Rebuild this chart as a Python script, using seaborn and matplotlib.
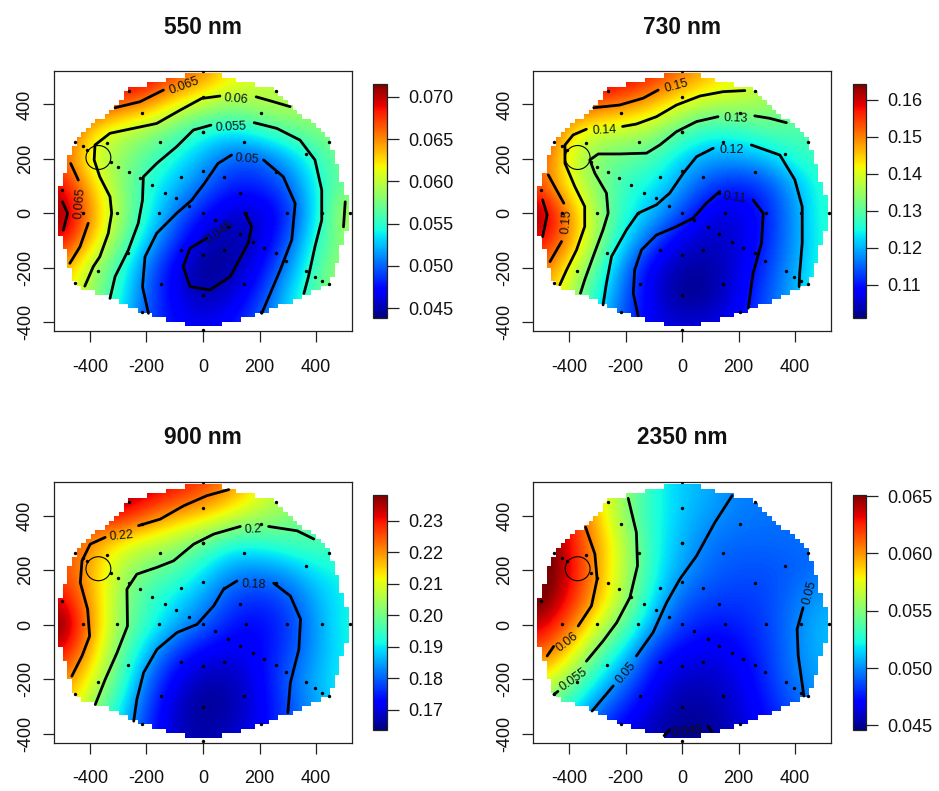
import numpy as np
import matplotlib
matplotlib.use("Agg")
import matplotlib.pyplot as plt
from matplotlib.path import Path
from matplotlib.patches import Circle
import seaborn as sns

sns.set_style("ticks")
plt.rcParams['font.family'] = ['Liberation Sans', 'DejaVu Sans']
plt.rcParams['axes.unicode_minus'] = False
plt.rcParams['text.color'] = 'black'
plt.rcParams['xtick.labelcolor'] = '#111111'
plt.rcParams['ytick.labelcolor'] = '#111111'

W, H = 939, 791

X_GRID = [-500, -400, -300, -200, -100, 0, 100, 200, 300, 400, 500]
Y_GRID = [500, 400, 300, 200, 100, 0, -100, -200, -300, -400]

VALUES_550 = [
    [.0700, .0700, .0700, .0700, .0670, .0650, .0620, .0605, .0590, .0580, .0580],
    [.0680, .0680, .0665, .0648, .0615, .0597, .0585, .0595, .0598, .0590, .0590],
    [.0690, .0625, .0598, .0585, .0565, .0545, .0535, .0548, .0565, .0575, .0585],
    [.0665, .0605, .0585, .0562, .0542, .0520, .0497, .0497, .0520, .0550, .0575],
    [.0695, .0635, .0585, .0548, .0525, .0502, .0480, .0482, .0497, .0542, .0572],
    [.0720, .0650, .0592, .0547, .0505, .0477, .0457, .0458, .0480, .0538, .0597],
    [.0695, .0635, .0580, .0528, .0488, .0455, .0445, .0458, .0495, .0548, .0585],
    [.0645, .0595, .0555, .0505, .0468, .0440, .0448, .0470, .0510, .0560, .0590],
    [.0630, .0590, .0548, .0498, .0467, .0448, .0458, .0485, .0530, .0565, .0590],
    [.0620, .0575, .0535, .0495, .0473, .0465, .0475, .0498, .0530, .0560, .0580],
]
VALUES_730 = [
    [.160, .160, .162, .160, .156, .151, .146, .142, .138, .135, .133],
    [.160, .155, .1525, .1497, .1455, .1395, .1365, .1365, .1355, .132, .130],
    [.158, .1435, .138, .1375, .135, .1297, .1255, .1265, .1293, .1295, .128],
    [.155, .1395, .1325, .1305, .1285, .1215, .1188, .1185, .1205, .126, .128],
    [.153, .1415, .1335, .1265, .1235, .1187, .1125, .1105, .1128, .1197, .1265],
    [.1650, .149, .1355, .1255, .1205, .1135, .1065, .106, .1105, .1185, .1265],
    [.1585, .1495, .1345, .1225, .1135, .1065, .1045, .106, .111, .1185, .126],
    [.153, .1415, .129, .1165, .107, .103, .103, .1065, .1125, .1195, .126],
    [.148, .1375, .1255, .1145, .1065, .1015, .1025, .1075, .114, .1205, .127],
    [.145, .135, .122, .113, .107, .106, .106, .109, .114, .120, .126],
]
VALUES_900 = [
    [.235, .235, .238, .235, .231, .227, .2205, .212, .205, .200, .198],
    [.230, .230, .232, .224, .218, .2145, .2095, .205, .2025, .1985, .196],
    [.228, .2200, .2115, .208, .2045, .199, .1925, .193, .1955, .197, .195],
    [.226, .2175, .206, .1995, .197, .190, .1835, .1825, .185, .190, .192],
    [.232, .2185, .204, .195, .190, .185, .178, .176, .1785, .186, .191],
    [.241, .2205, .2035, .194, .186, .180, .174, .1725, .1765, .184, .192],
    [.232, .2175, .200, .187, .177, .172, .1705, .1725, .1775, .1845, .191],
    [.222, .2115, .197, .1815, .1715, .1665, .167, .1715, .180, .186, .192],
    [.218, .2045, .192, .178, .1685, .1645, .166, .171, .178, .185, .190],
    [.215, .200, .188, .176, .168, .166, .168, .172, .178, .184, .190],
]
VALUES_2350 = [
    [.0600, .0600, .0580, .0555, .0525, .0512, .0507, .0497, .0497, .0497, .0497],
    [.0660, .0630, .0590, .0550, .0525, .0512, .0502, .0497, .0495, .0495, .0497],
    [.0665, .0632, .0597, .0562, .0525, .0508, .0495, .0492, .0492, .0493, .0495],
    [.0665, .0635, .0598, .0560, .0525, .0503, .0492, .0488, .0488, .0490, .0495],
    [.0660, .0630, .0595, .0557, .0517, .0492, .0485, .0483, .0485, .0495, .0505],
    [.0640, .0612, .0572, .0540, .0503, .0482, .0475, .0477, .0484, .0498, .0510],
    [.0615, .0585, .0545, .0515, .0480, .0470, .0465, .0470, .0482, .0498, .0510],
    [.0580, .0555, .0520, .0495, .0470, .0458, .0458, .0465, .0480, .0497, .0505],
    [.0550, .0525, .0498, .0478, .0462, .0452, .0453, .0462, .0475, .0490, .0500],
    [.0530, .0505, .0480, .0465, .0455, .0448, .0450, .0460, .0470, .0485, .0495],
]

OUTLINE = [
    (-518, 48), (-504, 98), (-483, 177), (-450, 269), (-409, 312), (-317, 386), (-264, 455),
    (-129, 490), (-55, 510), (50, 510), (107, 490), (261, 455), (308, 392), (414, 312),
    (450, 269), (473, 183), (497, 98), (514, 48), (514, -50), (497, -98), (473, -184),
    (450, -258), (367, -295), (296, -331), (202, -368), (107, -399), (50, -410), (-55, -410),
    (-129, -393), (-223, -362), (-306, -319), (-412, -282), (-453, -258), (-477, -184),
    (-500, -98), (-518, -50),
]

POINTS_X = [0, 519, 0, -262, 257, 0, -217, 206, 0, -453, -152, 145, 446, -425, -341, 363,
            -324, -409, -300, -262, -223, -182, -136, -94, -48, 0, -79, 74, 257, 130, -498,
            -425, -303, -156, 0, 151, 298, 420, 42, 90, 130, 176, 217, 258, 293, 74, -79, 0,
            -265, -372, 366, 396, 420, 446, -453, -150, 145, 0, -217, 206, 0]
POINTS_Y = [524, 2, 428, 448, 448, 299, 369, 369, 299, 262, 262, 262, 262, 246, 257, 216,
            189, 234, 170, 151, 130, 103, 76, 55, 28, 157, 135, 135, 151, 76, 87,
            2, 2, 2, 2, 2, 2, 2, -25, -51, -78, -105, -126, -148, -174, -137, -137, -153,
            -148, -211, -211, -233, -250, -260, -256, -260, -260, -301, -364, -364, -428]

CIRCLE_CENTER = (-370, 205)
CIRCLE_RADIUS = 44

LINES_550 = [
    [(-311, 388), (-223, 410), (-140, 453)],
    [(-468, 183), (-441, 122)],
    [(-406, -37), (-435, -123), (-471, -184)],
    [(-497, 42), (-479, 0), (-494, -62)],
    [(308, 392), (249, 410), (188, 428)],
    [(60, 431), (-5, 422), (-81, 379), (-164, 330), (-247, 312), (-329, 294), (-382, 251),
     (-385, 196), (-365, 134), (-329, 61), (-323, 0), (-335, -74), (-365, -160), (-388, -196), (-418, -268)],
    [(503, 42), (497, -50)],
    [(-329, -313), (-311, -233), (-264, -135), (-229, -37), (-214, 48), (-211, 134), (-164, 183),
     (-93, 245), (-34, 306), (28, 324)],
    [(181, 333), (261, 312), (343, 269), (396, 196), (420, 85), (420, -25), (396, -123), (373, -233), (357, -295)],
    [(-193, -368), (-214, -270), (-205, -160), (-164, -74), (-93, 0), (-40, 48), (5, 110), (53, 183), (101, 214)],
    [(214, 196), (284, 134), (326, 36), (314, -98), (273, -209), (208, -368)],
    [(149, 0), (172, -49), (160, -110), (96, -233), (25, -282), (-46, -270), (-70, -196), (-46, -129), (13, -92)],
]
LINES_730 = [
    [(-494, 49), (-478, -6), (-494, -86)],
    [(-313, 388), (-221, 398), (-138, 423), (-85, 453)],
    [(-474, 141), (-445, 86), (-419, 37)],
    [(-427, -104), (-468, -178)],
    [(222, 451), (145, 447), (63, 431), (-20, 398), (-91, 355), (-162, 328), (-211, 319)],
    [(-339, 309), (-386, 288), (-415, 251), (-415, 184), (-380, 98), (-345, 25), (-345, -49),
     (-374, -135), (-409, -208), (-433, -263)],
    [(369, 333), (310, 349), (257, 358)],
    [(127, 355), (51, 337), (-20, 300), (-79, 251), (-126, 221), (-221, 218), (-297, 218), (-327, 196),
     (-309, 147), (-268, 74), (-262, 0), (-280, -61), (-315, -159), (-345, -245), (-360, -294)],
    [(-280, -337), (-268, -257), (-250, -159), (-197, -61), (-156, 0), (-91, 31), (-44, 74), (4, 147),
     (51, 208), (110, 239)],
    [(245, 251), (346, 214), (399, 123), (425, 24), (425, -110), (416, -221), (414, -270)],
    [(-156, -377), (-173, -294), (-168, -208), (-144, -135), (-91, -80), (-20, -49), (39, -18), (86, 37), (133, 80)],
    [(251, 49), (287, 0), (281, -110), (251, -221), (234, -349)],
]
LINES_900 = [
    [(-228, 363), (-151, 387), (-68, 436), (14, 473), (91, 495)],
    [(-346, 320), (-399, 295), (-428, 234), (-434, 154), (-408, 56), (-401, -42), (-428, -115), (-464, -189)],
    [(392, 314), (333, 344), (232, 360)],
    [(132, 360), (38, 332), (-33, 295), (-104, 234), (-163, 210), (-234, 185), (-269, 130), (-267, -5),
     (-304, -103), (-346, -201), (-381, -293)],
    [(-245, -354), (-234, -275), (-210, -176), (-163, -91), (-92, -29), (-21, 1), (38, 69), (73, 130), (120, 160)],
    [(250, 152), (309, 105), (345, 20), (339, -91), (309, -213), (300, -323)],
]
LINES_2350 = [
    [(-342, 357), (-309, 259), (-301, 167), (-321, 69), (-368, -5)],
    [(-455, -80), (-478, -115)],
    [(-191, 463), (-162, 338), (-158, 216), (-185, 99), (-232, 7), (-280, -60), (-339, -134)],
    [(-454, -256), (-440, -245)],
    [(177, 473), (116, 375), (51, 252), (-8, 167), (-55, 81), (-103, -29), (-162, -115)],
    [(-244, -225), (-319, -317)],
    [(428, 62), (407, -17), (411, -115), (431, -262)],
    [(-64, -407), (-44, -385)],
    [(92, -373), (104, -391)],
]

LABELS_550 = [("0.065", -66, 469, 20), ("0.06", 116, 419, -5), ("0.055", 98, 318, 3),
              ("0.05", 155, 198, -5), ("0.045", 57, -70, 35), ("0.065", -435, 36, 85)]
LABELS_730 = [("0.15", -20, 468, 15), ("0.14", -276, 306, 3), ("0.13", 189, 347, -2),
              ("0.12", 177, 233, 0), ("0.11", 186, 59, -8), ("0.15", -409, -31, 85)]
LABELS_900 = [("0.22", -290, 326, 5), ("0.2", 177, 350, 3), ("0.18", 179, 148, -3)]
LABELS_2350 = [("0.06", -407, -66, 38), ("0.055", -386, -201, 35), ("0.05", -200, -176, 50),
               ("0.05", 452, 118, 75), ("0.045", 15, -391, 5)]

TITLES = ["550 nm", "730 nm", "900 nm", "2350 nm"]
RANGES = [(.04385, .0715), (.1011, .1642), (.1635, .2382), (.0446, .0651)]
CB_TICKS = [[.045, .05, .055, .06, .065, .07], [.11, .12, .13, .14, .15, .16],
            [.17, .18, .19, .20, .21, .22, .23], [.045, .05, .055, .06, .065]]
CB_FORMATS = ["%.3f", "%.2f", "%.2f", "%.3f"]
XTICKS = [-400, -200, 0, 200, 400]
YTICKS = [-400, -200, 0, 200, 400]

GRIDS = [VALUES_550, VALUES_730, VALUES_900, VALUES_2350]
LINES = [LINES_550, LINES_730, LINES_900, LINES_2350]
LABELS = [LABELS_550, LABELS_730, LABELS_900, LABELS_2350]

# pixel layout: (left, right, top, bottom)
AX_BOX = [(54, 352, 71, 331), (533.3, 831, 71, 331), (54, 352, 482, 742.7), (533.3, 831, 482, 742.7)]
CB_BOX = [(373, 387, 84, 318), (852.5, 866, 84, 318), (373, 387, 495, 730), (852.5, 866, 495, 730)]


def frac_rect(box):
    l, r, t, b = box
    return [l / W, 1 - b / H, (r - l) / W, (b - t) / H]


def stair_path(outline, step=16.6):
    poly = Path(np.array(outline + [outline[0]], dtype=float))
    rows = np.arange(-432, 530, step)
    cols = np.arange(-530, 530, step)
    left, right = [], []
    for y in rows:
        inside = poly.contains_points([(x + step / 2, y + step / 2) for x in cols])
        if inside.any():
            xs = cols[inside]
            left += [(xs.min(), y), (xs.min(), y + step)]
            right += [(xs.max() + step, y), (xs.max() + step, y + step)]
    verts = left + right[::-1] + [left[0]]
    return Path(np.array(verts))


clip = stair_path(OUTLINE)
fig = plt.figure(figsize=(W / 100, H / 100), dpi=100, facecolor="white")
FS = 13
for i in range(4):
    ax = fig.add_axes(frac_rect(AX_BOX[i]))
    vmin, vmax = RANGES[i]
    im = ax.imshow(np.array(GRIDS[i]), cmap="jet", vmin=vmin, vmax=vmax, aspect="auto",
                   extent=(-550, 550, -450, 550), origin="upper",
                   interpolation="bicubic", interpolation_stage="data", zorder=1)
    im.set_clip_path(clip, ax.transData)
    for seg in LINES[i]:
        xs, ys = zip(*seg)
        sns.lineplot(x=list(xs), y=list(ys), sort=False, estimator=None, color="black",
                     linewidth=2.0, ax=ax, zorder=3, legend=False)
    sns.scatterplot(x=POINTS_X, y=POINTS_Y, color="black", s=6, linewidth=0, ax=ax, zorder=4, legend=False)
    ax.add_patch(Circle(CIRCLE_CENTER, CIRCLE_RADIUS, fill=False, ec="black", lw=0.8, zorder=4))
    for txt, x, y, rot in LABELS[i]:
        ax.text(x, y, txt, rotation=rot, ha="center", va="center", fontsize=9,
                color="#111111", zorder=5, rotation_mode="anchor")
    ax.set_xlim(-527, 527)
    ax.set_ylim(-433, 523)
    ax.set_xticks(XTICKS)
    ax.set_yticks(YTICKS)
    ax.tick_params(axis="x", length=8, width=0.9, labelsize=FS, pad=12, color="#222222")
    ax.tick_params(axis="y", length=8, width=0.9, labelsize=FS, pad=6.5, color="#222222")
    for t in ax.get_yticklabels():
        t.set_rotation(90)
        t.set_va("center")
    for s in ax.spines.values():
        s.set_linewidth(0.9)
        s.set_color("#222222")
    ax.set_title(TITLES[i], fontsize=16.3, fontweight="bold", pad=27, color="#111111")

    cax = fig.add_axes(frac_rect(CB_BOX[i]))
    cb = fig.colorbar(im, cax=cax, ticks=CB_TICKS[i], format=CB_FORMATS[i])
    cb.ax.tick_params(length=8.6, width=0.9, labelsize=FS, pad=7, color="#222222")
    cb.outline.set_linewidth(0.9)
    cb.outline.set_edgecolor("#222222")

fig.savefig("out.png", dpi=100)
